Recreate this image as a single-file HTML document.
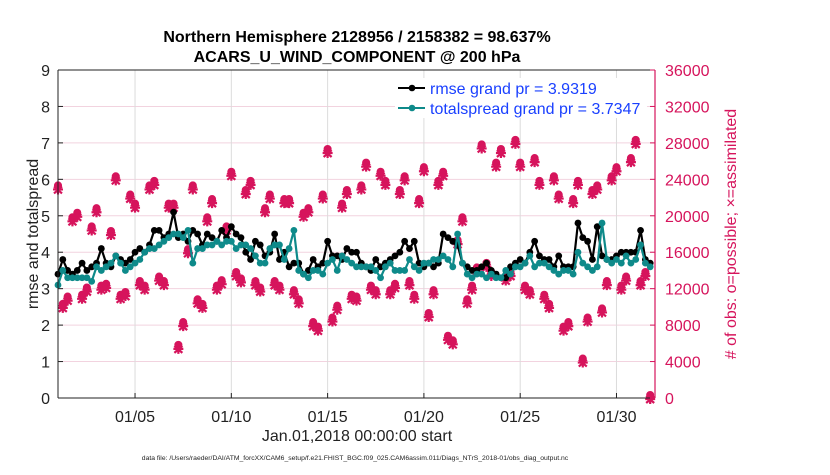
<!DOCTYPE html>
<html><head><meta charset="utf-8"><style>
body{margin:0;background:#fff;width:830px;height:470px;overflow:hidden;font-family:"Liberation Sans",Arial,sans-serif}
</style></head><body>
<svg id="chart" width="830" height="470" xmlns="http://www.w3.org/2000/svg" font-family="Liberation Sans, Arial, sans-serif">
<g id="grid"></g>
<g id="marks"></g>
<g id="axes"></g>
</svg>
<script>
const rmse=[3.4,3.8,3.5,3.4, 3.5,3.7,3.5,3.6, 3.7,4.1,3.7,3.6, 3.9,3.8,3.7,3.8, 4.0,4.1,4.0,4.2, 4.6,4.6,4.4,4.5, 5.1,4.4,4.5,4.3, 4.6,4.5,4.2,4.5, 4.4,4.3,4.6,4.4, 4.7,4.5,4.4,4.0, 3.8,4.3,4.2,3.9, 4.0,4.5,3.8,4.0, 3.6,3.7,3.7,3.4, 3.5,3.8,3.6,3.7, 4.3,3.9,3.9,3.8, 4.1,4.0,4.0,3.7, 3.6,3.5,3.8,3.6, 3.7,3.8,3.9,4.0, 4.3,4.1,4.3,3.7, 3.6,3.7,3.6,3.7, 4.5,4.4,4.3,4.2, 3.7,3.6,3.5,3.5, 3.6,3.7,3.5,3.4, 3.3,3.3,3.6,3.7, 3.8,3.7,4.0,4.3, 3.9,3.8,3.8,3.6, 3.9,3.6,3.6,3.6, 4.8,4.4,4.3,3.8, 4.7,3.9,3.8,3.8, 3.9,4.0,4.0,4.0, 4.0,4.6,3.8,3.7];
const spread=[3.1,3.5,3.3,3.3, 3.3,3.3,3.3,3.2, 3.6,3.5,3.6,3.7, 3.9,3.7,3.5,3.6, 3.7,3.8,4.0,4.1, 4.1,4.2,4.3,4.4, 4.5,4.5,4.4,4.6, 3.7,4.1,4.1,4.2, 4.2,4.3,4.2,4.3, 4.3,4.1,4.2,4.2, 4.1,3.9,3.7,3.7, 4.1,4.2,4.2,3.8, 4.1,4.6,3.5,3.4, 3.3,3.5,3.5,3.4, 3.7,3.8,3.5,3.9, 3.8,3.7,3.6,3.6, 3.6,3.6,3.5,3.3, 3.6,3.7,3.5,3.5, 3.5,3.8,3.6,3.5, 3.7,3.7,3.8,3.8, 3.9,3.8,3.6,4.5, 3.7,3.4,3.3,3.4, 3.4,3.3,3.4,3.3, 3.3,3.5,3.4,3.6, 3.6,3.7,3.9,3.6, 3.7,3.7,3.6,3.5, 3.4,3.5,3.5,3.4, 4.0,3.7,3.6,3.5, 3.6,4.8,3.8,3.7, 3.8,3.7,3.9,3.7, 3.8,4.2,3.7,3.6];
const obsCount=[23000,10000,10800,19500, 20000,11000,11800,18500, 20500,12000,12200,18000, 24000,11000,11300,22000, 21000,12500,12000,23000, 23500,13000,12500,21000, 21000,5500,8000,16000, 23000,10500,10000,19500, 21500,12000,12600,18500, 24500,13500,12800,22500, 23500,12500,11800,20500, 22000,12500,12000,21500, 21500,11500,10500,20000, 20500,8000,7500,22000, 27000,8500,9800,21000, 22500,11000,10800,23000, 25500,12000,11500,24500, 23500,11500,12200,22500, 24000,12500,11000,21500, 25000,9000,11500,23500, 24500,6500,6000,17000, 19500,10500,12000,14000, 27500,14500,13500,25500, 27000,13000,13500,28000, 25500,12000,11500,26000, 23500,11000,10000,24000, 22000,7500,8000,21500, 23500,4000,8500,22500, 23000,9500,12500,24000, 25000,12000,13000,26000, 28000,12500,13500,0];
const leftTicks=[0,1,2,3,4,5,6,7,8,9];
const rightTicks=[0,4000,8000,12000,16000,20000,24000,28000,32000,36000];
const dateTicks=[4,9,14,19,24,29];
const dateLabels=["01/05","01/10","01/15","01/20","01/25","01/30"];

const L=58,R=655,T=70,B=398,NS="http://www.w3.org/2000/svg";
const xS=d=>L+d/31*(R-L);
const yL=v=>B-v/9*(B-T);
const yR=v=>B-v/36000*(B-T);
const CR="#d6145c",TEAL="#0e8a8a";
function mk(p,tag,a){const e=document.createElementNS(NS,tag);for(const k in a)e.setAttribute(k,a[k]);p.appendChild(e);return e;}
const grid=document.getElementById('grid'),marks=document.getElementById('marks'),axes=document.getElementById('axes');
mk(grid,'rect',{x:L,y:T,width:R-L,height:B-T,fill:'#fff'});
rightTicks.forEach(t=>{const g=mk(grid,'line',{x1:L,x2:R,y1:yR(t),y2:yR(t),stroke:'#f2d3df','stroke-width':1});

});
dateTicks.forEach(d=>{const g=mk(grid,'line',{x1:xS(d),x2:xS(d),y1:T,y2:B,stroke:'#dcdcdc','stroke-width':1});

});
obsCount.forEach((c,i)=>{const x=xS(i/4),y=yR(c);
const g=mk(marks,'g',{});


mk(g,'circle',{cx:x,cy:y-3,r:3.3,fill:CR,stroke:CR,'stroke-width':1.5});
mk(g,'path',{d:`M${x-5},${y+1}H${x+5}M${x},${y-4}V${y+6}M${x-4},${y-2}L${x+4},${y+5}M${x+4},${y-2}L${x-4},${y+5}`,stroke:CR,'stroke-width':2.2});
});
function series(arr,col,name){
const pts=arr.map((v,i)=>xS(i/4)+','+yL(v)).join(' ');
const pl=mk(marks,'polyline',{points:pts,fill:'none',stroke:col,'stroke-width':2.2,'stroke-linejoin':'round'});


arr.forEach((v,i)=>{const c=mk(marks,'circle',{cx:xS(i/4),cy:yL(v),r:3.4,fill:col});

});
}
series(rmse,'#000','rmse');
series(spread,TEAL,'totalspread');
mk(axes,'line',{x1:L,x2:L,y1:T,y2:B,stroke:'#222','stroke-width':1});
mk(axes,'line',{x1:L,x2:R,y1:B,y2:B,stroke:'#222','stroke-width':1});
mk(axes,'line',{x1:L,x2:R,y1:T,y2:T,stroke:'#222','stroke-width':1});
mk(axes,'line',{x1:R,x2:R,y1:T,y2:B,stroke:CR,'stroke-width':1.2});
leftTicks.forEach(t=>{mk(axes,'line',{x1:L,x2:L+5,y1:yL(t),y2:yL(t),stroke:'#222'});
const tx=mk(axes,'text',{x:L-8,y:yL(t)+6,'text-anchor':'end','font-size':16,fill:'#222'});tx.textContent=t;

});
rightTicks.forEach(t=>{mk(axes,'line',{x1:R-5,x2:R,y1:yR(t),y2:yR(t),stroke:CR});
const tx=mk(axes,'text',{x:R+10,y:yR(t)+6,'font-size':16,fill:CR});tx.textContent=t;

});
dateTicks.forEach((d,i)=>{mk(axes,'line',{x1:xS(d),x2:xS(d),y1:B-5,y2:B,stroke:'#222'});
const tx=mk(axes,'text',{x:xS(d),y:B+24,'text-anchor':'middle','font-size':16,fill:'#222'});tx.textContent=dateLabels[i];

});
</script>
<svg style="position:absolute;left:0;top:0" width="830" height="470" font-family="Liberation Sans, Arial, sans-serif">
<text x="357" y="42" text-anchor="middle" font-size="16" font-weight="bold" fill="#000">Northern Hemisphere 2128956 / 2158382 = 98.637%</text>
<text x="357" y="62" text-anchor="middle" font-size="16" font-weight="bold" fill="#000">ACARS_U_WIND_COMPONENT @ 200 hPa</text>
<text transform="translate(38,234) rotate(-90)" text-anchor="middle" font-size="16" fill="#222">rmse and totalspread</text>
<text transform="translate(736,234) rotate(-90)" text-anchor="middle" font-size="16" fill="#d6145c"># of obs: o=possible; ×=assimilated</text>
<text x="357" y="441" text-anchor="middle" font-size="16" fill="#222">Jan.01,2018 00:00:00 start</text>
<text x="355" y="460" text-anchor="middle" font-size="6.8" fill="#222">data file: /Users/raeder/DAI/ATM_forcXX/CAM6_setup/f.e21.FHIST_BGC.f09_025.CAM6assim.011/Diags_NTrS_2018-01/obs_diag_output.nc</text>
<g>
<rect x="395" y="78" width="252" height="40" fill="#fff"/>
<line x1="398" x2="425" y1="88" y2="88" stroke="#000" stroke-width="2"/><circle cx="412" cy="88" r="3.3" fill="#000"/>
<text x="430" y="94" font-size="16" fill="#1a40ff">rmse grand pr = 3.9319</text>
<line x1="398" x2="425" y1="108" y2="108" stroke="#0e8a8a" stroke-width="2"/><circle cx="412" cy="108" r="3.3" fill="#0e8a8a"/>
<text x="430" y="114" font-size="16" fill="#1a40ff">totalspread grand pr = 3.7347</text>
</g>
</svg>
</body></html>
